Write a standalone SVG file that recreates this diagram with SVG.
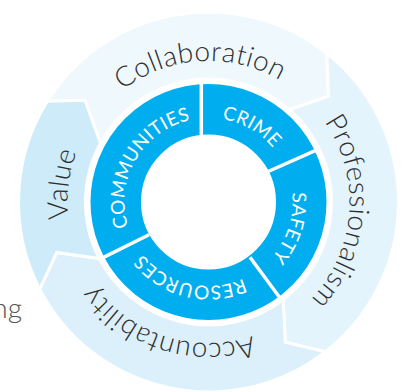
<svg xmlns="http://www.w3.org/2000/svg" width="408" height="392" viewBox="0 0 408 392">
<style>
.seg{stroke:#fff;stroke-width:3;stroke-linejoin:miter}
.outer{font-family:Lato,"Open Sans",sans-serif;font-weight:300;font-size:28px;letter-spacing:0.5px;fill:#2e2e2e}
.inner{font-family:Lato,"Open Sans",sans-serif;font-weight:400;font-size:19px;letter-spacing:0.4px;fill:#fff}
.div{stroke:#fff;stroke-width:3.5;fill:none}
</style>
<defs>
<path id="r141" d="M67.5,202 A141,141 0 1 1 349.5,202 A141,141 0 1 1 67.5,202"/>
<path id="r84" d="M124.5,202 A84,84 0 1 1 292.5,202 A84,84 0 1 1 124.5,202"/>
</defs>
<rect width="408" height="392" fill="#fff"/>
<text x="22" y="318" text-anchor="end" font-family="Lato, 'Open Sans', sans-serif" font-weight="300" font-size="28" fill="#555">ng</text>

<g id="collaboration">
<path class="seg" fill="#eff8fd" d="M47.4,101.3 A190,190 0 0 1 326.8,53.3 L328.5,96.2 L289.7,109.6 A123,123 0 0 0 100.4,143.3 L85,100.2 Z"/>
<text class="outer" transform="rotate(-93.5 208.5 202)"><textPath href="#r141" startOffset="50%" text-anchor="middle">Collaboration</textPath></text>
</g>
<g id="professionalism">
<path class="seg" fill="#e4f4fc" d="M326.8,53.3 A190,190 0 0 1 325.5,351.7 L285.3,342.3 L283.2,299.7 A123,123 0 0 0 289.7,109.6 L328.5,96.2 Z"/>
<text class="outer" transform="rotate(4.5 208.5 202)"><textPath href="#r141" startOffset="50%" text-anchor="middle">Professionalism</textPath></text>
</g>
<g id="accountability">
<path class="seg" fill="#dbf0fb" d="M325.5,351.7 A190,190 0 0 1 39.7,289.1 L56.7,252.5 L99.2,258.4 A123,123 0 0 0 283.2,299.7 L285.3,342.3 Z"/>
<text class="outer" transform="rotate(108 208.5 202)"><textPath href="#r141" startOffset="50%" text-anchor="middle">Accountability</textPath></text>
</g>
<g id="value">
<path class="seg" fill="#cdebf9" d="M39.7,289.1 A190,190 0 0 1 47.4,101.3 L85,100.2 L100.4,143.3 A123,123 0 0 0 99.2,258.4 L56.7,252.5 Z"/>
<text class="outer" transform="rotate(187 208.5 202)"><textPath href="#r141" startOffset="50%" text-anchor="middle">Value</textPath></text>
</g>

<g id="core-ring">
<circle cx="208.5" cy="202" r="92.75" fill="none" stroke="#00aeef" stroke-width="50.5"/>
</g>
<g id="connectors">
<line class="div" x1="201.3" y1="80" x2="201.3" y2="140"/>
<line class="div" x1="267" y1="172" x2="318" y2="149.4"/>
<line class="div" x1="250" y1="257.3" x2="281.5" y2="300"/>
<line class="div" x1="149" y1="234.7" x2="101" y2="258.6"/>
</g>
<g id="crime"><text class="inner" transform="rotate(-60.2 208.5 202)"><textPath href="#r84" startOffset="50%" text-anchor="middle">CRIME</textPath></text></g>
<g id="safety"><text class="inner" transform="rotate(17.7 208.5 202)"><textPath href="#r84" startOffset="50%" text-anchor="middle">SAFETY</textPath></text></g>
<g id="resources"><text class="inner" transform="rotate(103.7 208.5 202)"><textPath href="#r84" startOffset="50%" text-anchor="middle">RESOURCES</textPath></text></g>
<g id="communities"><text class="inner" transform="rotate(210.2 208.5 202)"><textPath href="#r84" startOffset="50%" text-anchor="middle">COMMUNITIES</textPath></text></g>
</svg>
